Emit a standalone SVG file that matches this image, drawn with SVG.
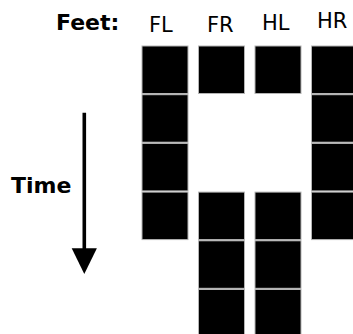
<svg xmlns="http://www.w3.org/2000/svg" width="353" height="334" viewBox="0 0 353 334">
<defs>
<style>
.c{fill:#000;stroke:#b4b4b4;stroke-width:1}
.lb{font-family:"DejaVu Sans",sans-serif;font-weight:bold;font-size:22px;fill:#000}
.lf{font-family:"DejaVu Sans",sans-serif;font-size:21px;fill:#000}
</style>
</defs>
<rect width="353" height="334" fill="#fff"/>
<g id="labels">
<text class="lb" x="56" y="30">Feet:</text>
<text class="lf" x="149" y="32">FL</text>
<text class="lf" x="207" y="32">FR</text>
<text class="lf" x="262" y="30">HL</text>
<text class="lf" x="317" y="28">HR</text>
<text class="lb" x="11" y="193">Time</text>
</g>
<g id="FL">
<rect class="c" x="142" y="46" width="46" height="47.5"/>
<rect class="c" x="142" y="94.7" width="46" height="47.5"/>
<rect class="c" x="142" y="143.4" width="46" height="47.5"/>
<rect class="c" x="142" y="192.1" width="46" height="47.5"/>
</g>
<g id="FR">
<rect class="c" x="198.5" y="46" width="46" height="47.5"/>
<rect class="c" x="198.5" y="192.1" width="46" height="47.5"/>
<rect class="c" x="198.5" y="240.8" width="46" height="47.5"/>
<rect class="c" x="198.5" y="289.5" width="46" height="47.5"/>
</g>
<g id="HL">
<rect class="c" x="255" y="46" width="46" height="47.5"/>
<rect class="c" x="255" y="192.1" width="46" height="47.5"/>
<rect class="c" x="255" y="240.8" width="46" height="47.5"/>
<rect class="c" x="255" y="289.5" width="46" height="47.5"/>
</g>
<g id="HR">
<rect class="c" x="311.5" y="46" width="46" height="47.5"/>
<rect class="c" x="311.5" y="94.7" width="46" height="47.5"/>
<rect class="c" x="311.5" y="143.4" width="46" height="47.5"/>
<rect class="c" x="311.5" y="192.1" width="46" height="47.5"/>
</g>
<g id="connectors">
<line x1="84.3" y1="112.7" x2="84.3" y2="250" stroke="#000" stroke-width="3.6"/>
<path d="M71.7 248.3 L96.9 248.3 L84.3 274 Z" fill="#000"/>
</g>
</svg>
